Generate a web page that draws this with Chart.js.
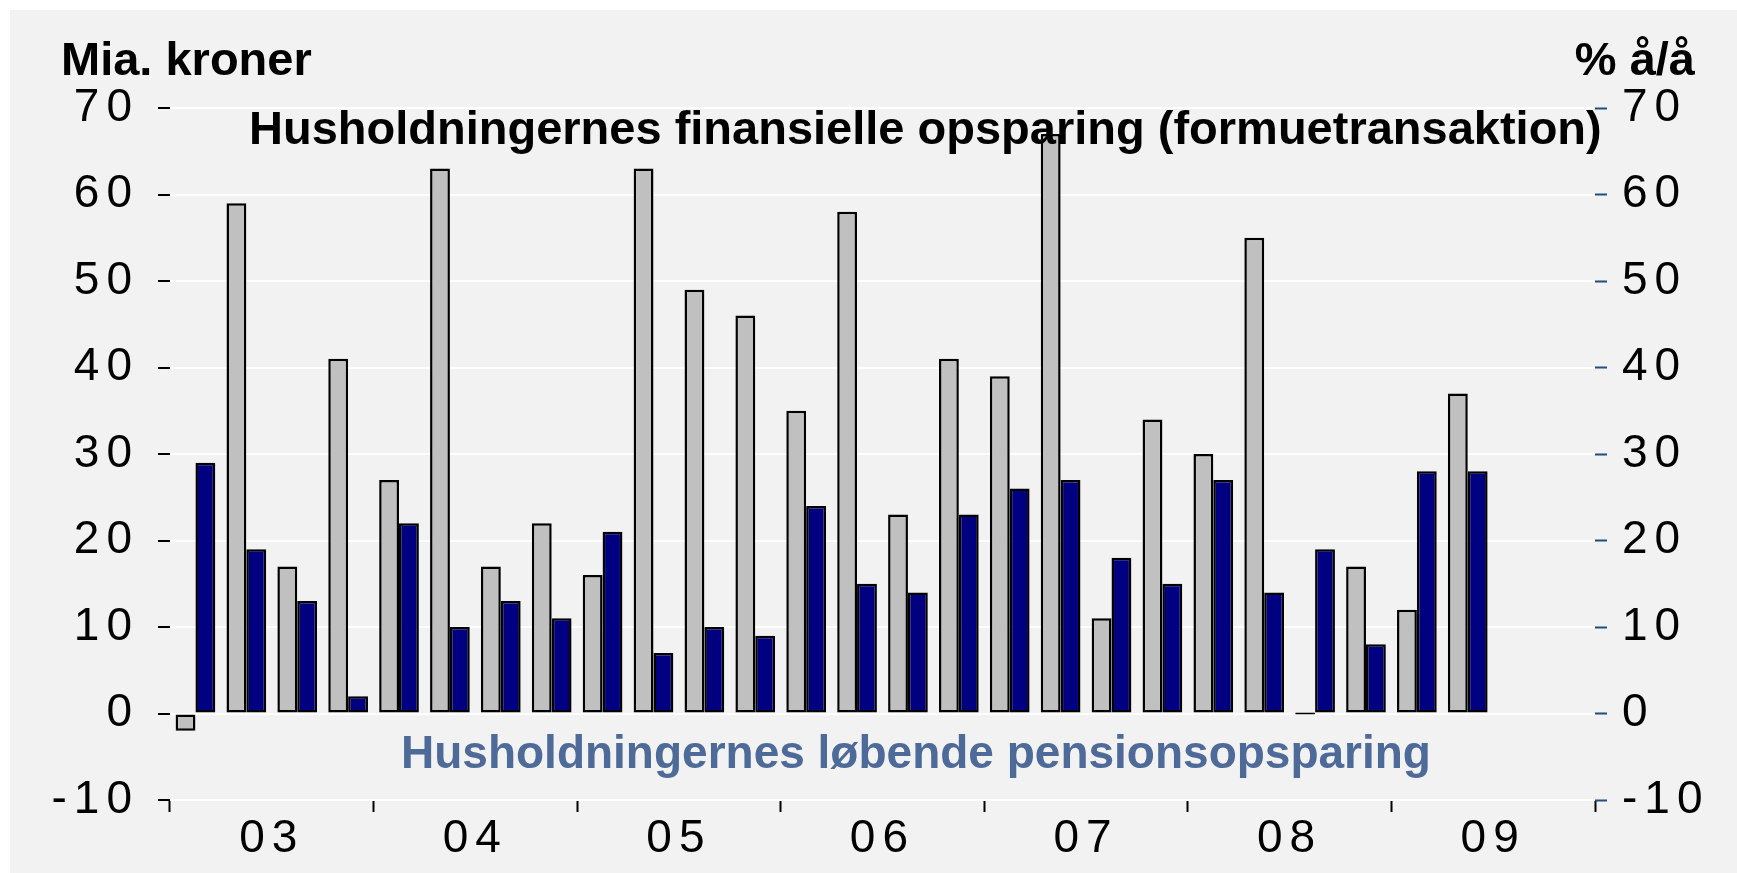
<!DOCTYPE html>
<html>
<head>
<meta charset="utf-8">
<script src="https://cdn.jsdelivr.net/npm/chart.js@4/dist/chart.umd.min.js"></script>
<style>
  html, body { margin: 0; padding: 0; background: #ffffff; }
  #wrap { width: 1737px; height: 873px; position: relative; }
</style>
</head>
<body>
<div id="wrap"><canvas id="c"></canvas></div>
<script>
// ---- Data ----
const quarters = [
  '2003K1','2003K2','2003K3','2003K4',
  '2004K1','2004K2','2004K3','2004K4',
  '2005K1','2005K2','2005K3','2005K4',
  '2006K1','2006K2','2006K3','2006K4',
  '2007K1','2007K2','2007K3','2007K4',
  '2008K1','2008K2','2008K3','2008K4',
  '2009K1','2009K2','2009K3','2009K4'
];
const yearLabels = ['03','04','05','06','07','08','09'];
const finansielOpsparing = [-2, 59, 17, 41, 27, 63, 17, 22, 16, 63, 49, 46, 35, 58, 23, 41, 39, 67, 11, 34, 30, 55, 0, 17, 12, 37, null, null];
const pensionsOpsparing  = [29, 19, 13, 2, 22, 10, 13, 11, 21, 7, 10, 9, 24, 15, 14, 23, 26, 27, 18, 15, 27, 14, 19, 8, 28, 28, null, null];
const yMin = -10, yMax = 70, yStep = 10;

const seriesNames = [
  'Husholdningernes finansielle opsparing (formuetransaktion)',
  'Husholdningernes løbende pensionsopsparing'
];
const leftUnit = 'Mia. kroner';
const rightUnit = '% å/å';

const FONT = "'Liberation Sans', Arial, sans-serif";
const TICKFONT = "'Liberation Sans Narrow', 'Arial Narrow', 'Liberation Sans', sans-serif";

const bgPlugin = {
  id: 'bg',
  beforeDraw(chart) {
    const ctx = chart.ctx;
    ctx.save();
    ctx.fillStyle = '#ffffff';
    ctx.fillRect(0, 0, chart.width, chart.height);
    ctx.fillStyle = '#f2f2f2';
    ctx.fillRect(10, 10, chart.width - 10, chart.height - 10);
    ctx.restore();
    try { ctx.letterSpacing = '7px'; } catch (e) {}
  },
  beforeDatasetsDraw(chart) {
    try { chart.ctx.letterSpacing = '0px'; } catch (e) {}
  },
  afterDraw(chart) {
    const ctx = chart.ctx;
    ctx.save();
    try { ctx.letterSpacing = '0px'; } catch (e) {}
    ctx.textBaseline = 'alphabetic';
    ctx.fillStyle = '#000000';
    ctx.font = 'bold 47px ' + FONT;
    ctx.textAlign = 'left';
    ctx.fillText(leftUnit, 61, 75);
    ctx.textAlign = 'right';
    ctx.fillText(rightUnit, 1695, 75);
    ctx.font = 'bold 47px ' + FONT;
    ctx.textAlign = 'left';
    ctx.fillStyle = '#000000';
    ctx.fillText(seriesNames[0], 249, 144);
    ctx.font = 'bold 46px ' + FONT;
    ctx.fillStyle = '#4d6a98';
    ctx.fillText(seriesNames[1], 401, 768);
    ctx.restore();
  }
};

const chart = new Chart(document.getElementById('c'), {
  type: 'bar',
  data: {
    labels: quarters,
    datasets: [
      {
        label: seriesNames[0],
        data: finansielOpsparing,
        backgroundColor: '#c0c0c0',
        borderColor: '#000000',
        borderWidth: 2.5,
        borderSkipped: false,
        minBarLength: 2,
        categoryPercentage: 0.78,
        barPercentage: 1.0,
        yAxisID: 'y'
      },
      {
        label: seriesNames[1],
        data: pensionsOpsparing,
        backgroundColor: '#000080',
        borderColor: '#000000',
        borderWidth: 2.5,
        borderSkipped: false,
        categoryPercentage: 0.78,
        barPercentage: 1.0,
        yAxisID: 'y'
      }
    ]
  },
  options: {
    responsive: true,
    maintainAspectRatio: false,
    animation: false,
    devicePixelRatio: 1,
    layout: { padding: { top: 108, left: 0, right: 0, bottom: 0 } },
    plugins: {
      legend: { display: false },
      title: { display: false },
      tooltip: { enabled: false }
    },
    scales: {
      x: {
        type: 'category',
        position: 'bottom',
        offset: true,
        afterFit(scale) { scale.height = 73; },
        border: { display: false },
        grid: {
          display: true,
          offset: true,
          drawOnChartArea: false,
          drawTicks: true,
          tickLength: 12,
          tickWidth: 2,
          tickColor: (ctx) => (ctx.index === undefined || ctx.index % 4 === 0) ? '#000000' : 'rgba(0,0,0,0)'
        },
        ticks: {
          autoSkip: false,
          maxRotation: 0,
          minRotation: 0,
          padding: 0,
          labelOffset: 25.4,
          color: '#000000',
          font: { family: TICKFONT, size: 46 },
          callback: function(value, index) {
            return (index % 4 === 1) ? yearLabels[Math.floor(index / 4)] : '';
          }
        }
      },
      y: {
        type: 'linear',
        position: 'left',
        min: yMin,
        max: yMax,
        afterFit(scale) { scale.width = 170; },
        border: { display: false },
        grid: {
          color: '#ffffff',
          lineWidth: 2,
          drawTicks: true,
          tickLength: 12,
          tickWidth: 2,
          tickColor: '#000000'
        },
        ticks: {
          stepSize: yStep,
          padding: 19,
          color: '#000000',
          font: { family: TICKFONT, size: 46 }
        }
      },
      y2: {
        type: 'linear',
        position: 'right',
        min: yMin,
        max: yMax,
        afterFit(scale) { scale.width = 142; },
        border: { display: false },
        grid: {
          drawOnChartArea: false,
          drawTicks: true,
          tickLength: 12,
          tickWidth: 2,
          tickColor: '#1f4f7f'
        },
        ticks: {
          stepSize: yStep,
          padding: 15,
          color: '#000000',
          font: { family: TICKFONT, size: 46 }
        }
      }
    }
  },
  plugins: [bgPlugin]
});
</script>
</body>
</html>
